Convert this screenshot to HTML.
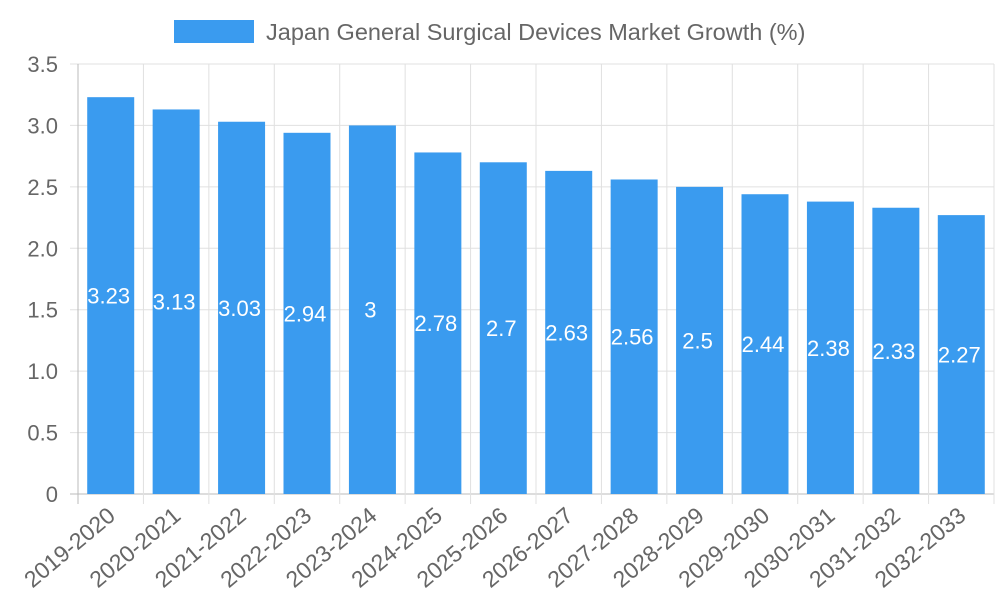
<!DOCTYPE html>
<html><head><meta charset="utf-8"><style>
body{margin:0;background:#fff;}
svg text{font-family:"Liberation Sans",sans-serif;}
</style></head><body>
<svg id="chart" width="1000" height="600" xmlns="http://www.w3.org/2000/svg">
<g>
<rect x="174" y="20" width="80" height="23" fill="#3a9bef"/>
<text x="266" y="40" font-size="23.5" fill="#666">Japan General Surgical Devices Market Growth (%)</text>
</g>
<g id="grid"></g><g id="bars"></g><g id="labels"></g>
</svg>
<script>
const categories=["2019-2020","2020-2021","2021-2022","2022-2023","2023-2024","2024-2025","2025-2026","2026-2027","2027-2028","2028-2029","2029-2030","2030-2031","2031-2032","2032-2033"];
const values=[3.23,3.13,3.03,2.94,3,2.78,2.7,2.63,2.56,2.5,2.44,2.38,2.33,2.27];
const yTicks=[0,0.5,1.0,1.5,2.0,2.5,3.0,3.5];
const yTickLabels=["0","0.5","1.0","1.5","2.0","2.5","3.0","3.5"];
const NS="http://www.w3.org/2000/svg";
const L=78,R=994,T=64,B=494,yMax=3.5;
const step=(R-L)/categories.length;
const y=v=>B-(v/yMax)*(B-T);
const xc=i=>L+step*(i+0.5);
function mk(tag,attrs,parent){const e=document.createElementNS(NS,tag);for(const k in attrs)e.setAttribute(k,attrs[k]);parent.appendChild(e);return e;}
const grid=document.getElementById('grid'),bars=document.getElementById('bars'),labels=document.getElementById('labels');
yTicks.forEach((t,i)=>{
  const l=mk('line',{x1:L-8,x2:R,y1:y(t),y2:y(t),stroke:i===0?'#bbb':'#e0e0e0','stroke-width':1},grid);
  
  
  const tx=mk('text',{x:L-20,y:y(t)+8,'text-anchor':'end','font-size':22,fill:'#666'},grid);
  tx.textContent=yTickLabels[i];
  
  
});
for(let i=0;i<=categories.length;i++){
  const x=L+step*i;
  const l=mk('line',{x1:x,x2:x,y1:T,y2:B+10,stroke:i===0?'#bbb':'#e0e0e0','stroke-width':1},grid);
  
  
}
categories.forEach((c,i)=>{
  const bw=47;
  const r=mk('rect',{x:xc(i)-bw/2,y:y(values[i]),width:bw,height:B-y(values[i]),fill:'#3a9bef'},bars);
  
  
  const v=mk('text',{x:xc(i)-2,y:(y(values[i])+B)/2+8,'text-anchor':'middle','font-size':22,fill:'#fff'},labels);
  v.textContent=values[i];
  
  
  const tx=mk('text',{x:0,y:0,'text-anchor':'end','font-size':23,fill:'#666',transform:`translate(${xc(i)+6},${B+24}) rotate(-40)`},labels);
  tx.textContent=c;
  
  
});
</script>
</body></html>
